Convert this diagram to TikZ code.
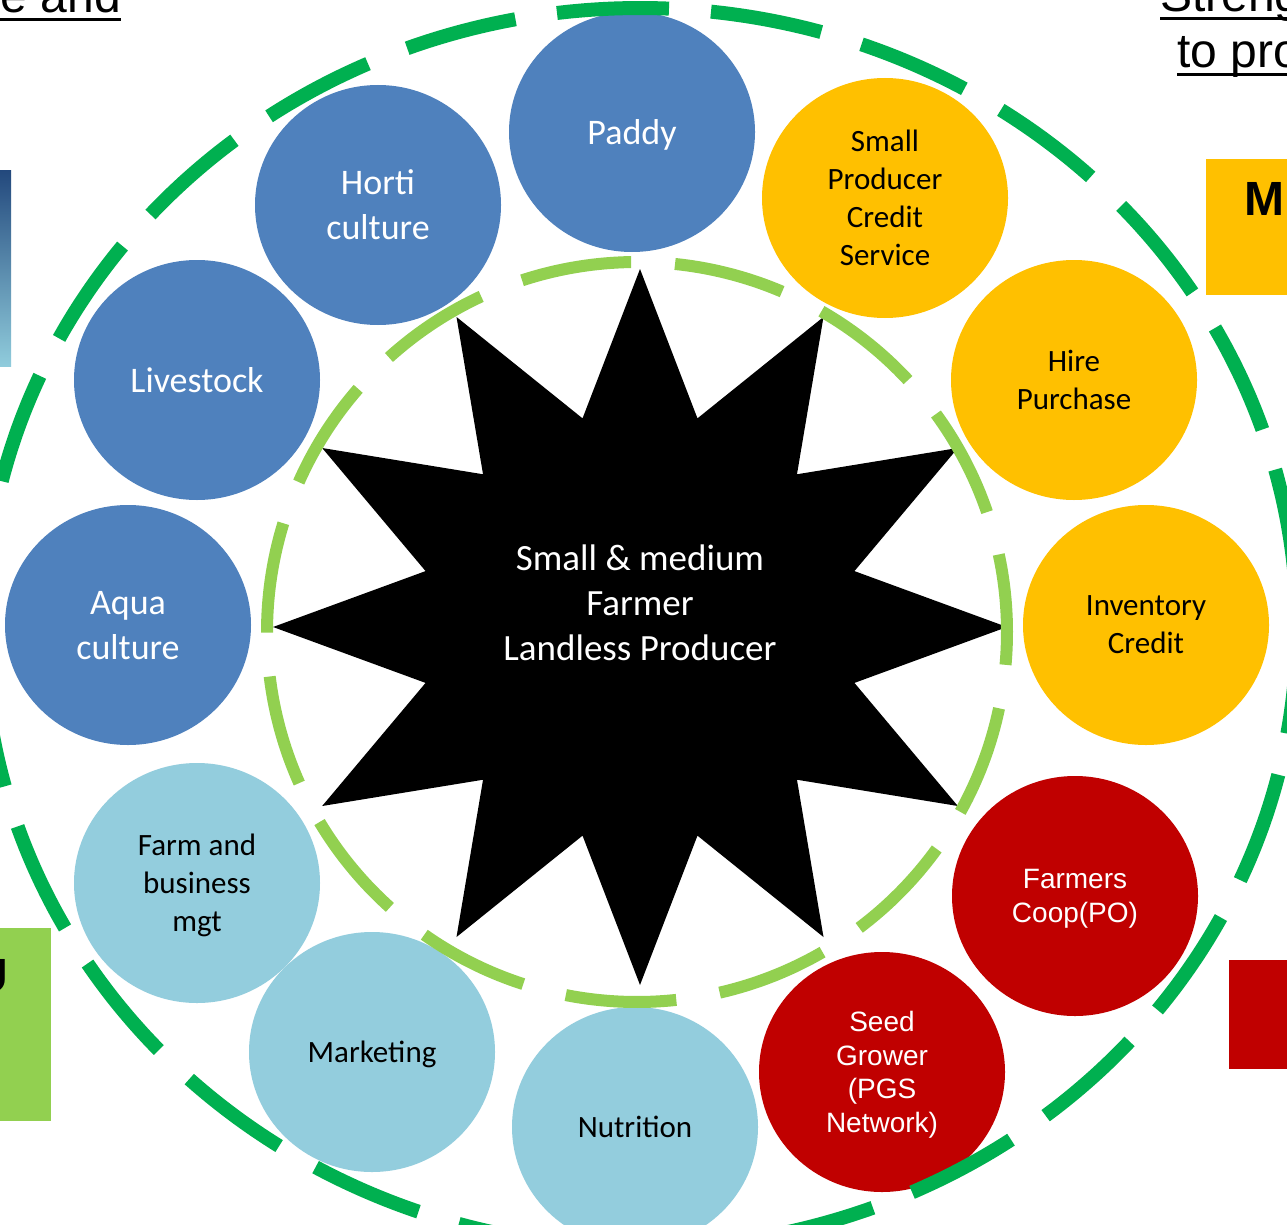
\documentclass[tikz,border=0pt]{standalone}
\usepackage{fontspec}
\setmainfont{Carlito}
\newfontfamily\arialf{Liberation Sans}
\usetikzlibrary{shapes.geometric,calc}
\definecolor{cblue}{HTML}{4F81BD}
\definecolor{clight}{HTML}{93CDDD}
\definecolor{cyellow}{HTML}{FFC000}
\definecolor{cred}{HTML}{C00000}
\definecolor{gdark}{HTML}{00B050}
\definecolor{glight}{HTML}{92D050}
\definecolor{navyc}{HTML}{23497D}
\definecolor{lavc}{HTML}{C5D3EE}
\definecolor{cyanc}{HTML}{90CCDC}
\begin{document}
\begin{tikzpicture}[x=1pt,y=-1pt,
  bub/.style={ellipse, minimum width=246pt, minimum height=240pt, inner sep=0pt, align=center, text depth=0pt},
  bluebub/.style={bub, fill=cblue, text=white, font=\fontsize{36}{45}\selectfont},
  lightbub/.style={bub, fill=clight, text=black, font=\fontsize{31}{38}\selectfont},
  yelbub/.style={bub, fill=cyellow, text=black, font=\fontsize{31}{38}\selectfont},
  redbub/.style={bub, fill=cred, text=white, font=\arialf\fontsize{28}{33.5}\selectfont},
  headtxt/.style={inner sep=0pt, font=\arialf\fontsize{48}{55}\selectfont},
  boldtxt/.style={inner sep=0pt, font=\arialf\bfseries\fontsize{48}{55}\selectfont},
  ulbar/.style={line width=3.3pt},
  outerring/.style={gdark, line width=14pt, dash pattern=on 112.2pt off 42.13pt},
  innerring/.style={glight, line width=12pt, dash pattern=on 111pt off 43.98pt}
]
\useasboundingbox (0,0) rectangle (1287,1225);
\clip (0,0) rectangle (1287,1225);
\fill[white] (0,0) rectangle (1287,1225);

% corner items
\node[headtxt, anchor=base east] (tl) at (121,13) {e and};
\draw[ulbar] ($(tl.base west)+(0,6.5)$) -- ($(tl.base east)+(0,6.5)$);
\node[headtxt, anchor=base west] (tra) at (1160,12) {Streng};
\draw[ulbar] ($(tra.base west)+(0,6.5)$) -- ($(tra.base east)+(0,6.5)$);
\node[headtxt, anchor=base west] (trb) at (1177,68) {to pro};
\draw[ulbar] ($(trb.base west)+(0,6.5)$) -- ($(trb.base east)+(0,6.5)$);

\shade[top color=navyc, middle color=lavc, bottom color=cyanc] (0,171) rectangle (11,366);
\fill[cyellow] (1206,159) rectangle (1287,295);
\node[boldtxt, anchor=base west] (mbox) at (1244,215) {M};
\fill[glight] (0,928) rectangle (51,1121);
\node[boldtxt, anchor=base east] (ubox) at (8.5,992) {U};
\fill[cred] (1229,960) rectangle (1287,1069);

% circles
\node[bluebub] (paddy) at (632,132) {Paddy};
\node[bluebub] (horti) at (378,205) {Horti\\culture};
\node[bluebub] (live) at (197,380) {Livestock};
\node[bluebub] (aqua) at (128,625) {Aqua\\culture};
\node[lightbub] (farm) at (197,883) {Farm and\\business\\mgt};
\node[lightbub] (mkt) at (372,1052) {Marketing};
\node[lightbub] (nut) at (635,1127) {Nutrition};
\node[redbub] (seed) at (882,1072) {Seed\\Grower\\(PGS\\Network)};
\node[redbub] (coop) at (1075,896) {Farmers\\Coop(PO)};
\node[yelbub] (inv) at (1146,625) {Inventory\\Credit};
\node[yelbub] (hire) at (1074,380) {Hire\\Purchase};
\node[yelbub] (spcs) at (885,198) {Small\\Producer\\Credit\\Service};

% star
\fill[black] (640,269)
  \foreach \k in {0,...,11}{
    -- ({640+222*cos(-75+30*\k)},{627+216*sin(-75+30*\k)})
    -- ({640+367*cos(-60+30*\k)},{627+358*sin(-60+30*\k)})
  } -- cycle;
\node[text=white, align=center, inner sep=0pt, font=\fontsize{37}{45}\selectfont] (core) at (640,603)
  {Small \& medium\\Farmer\\Landless Producer};

% dashed rings
\draw[innerring] plot[domain=-108.1:251.9, samples=721] ({637+370*cos(\x)},{632+370*sin(\x)});
\draw[outerring] plot[domain=-97.26:262.74, samples=721] ({640+657*cos(\x)},{628+620*sin(\x)});
\end{tikzpicture}
\end{document}
